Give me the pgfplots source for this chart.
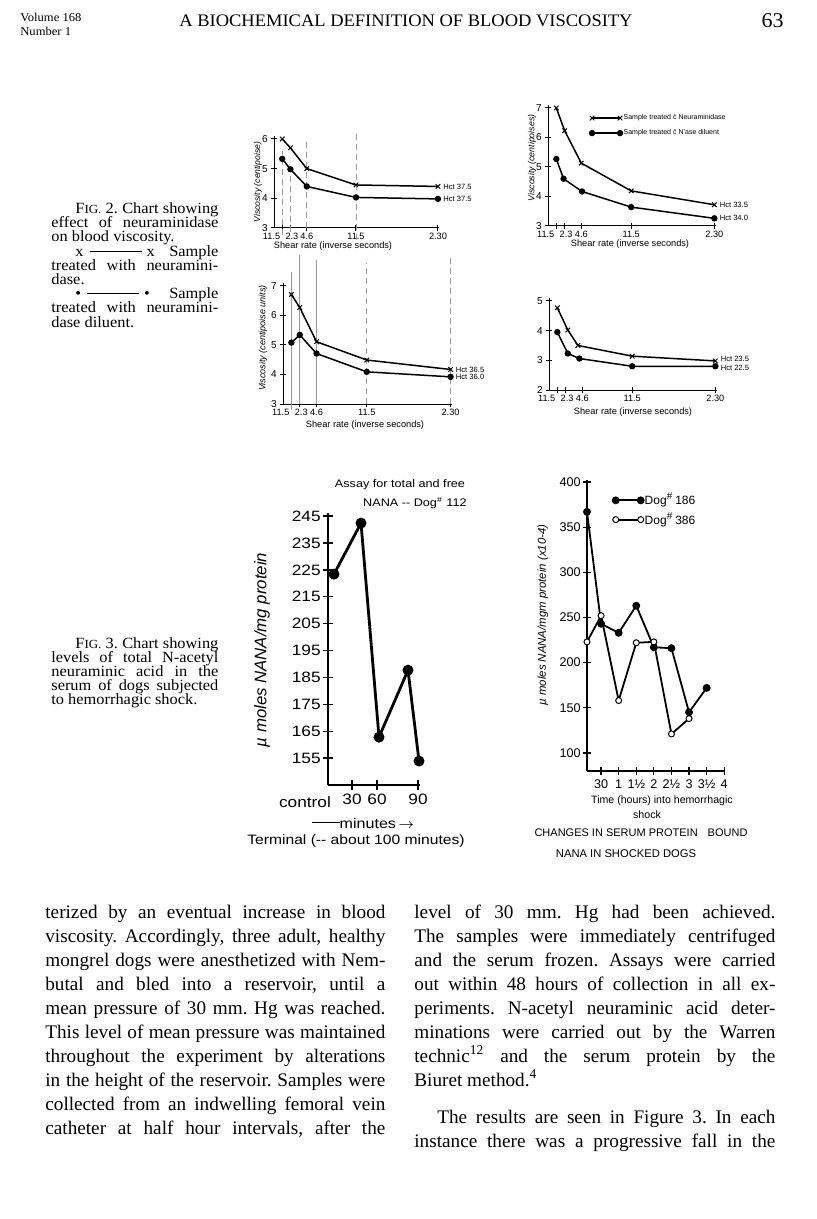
\documentclass[border=0pt]{standalone}
\usepackage{pgfplots}
\pgfplotsset{compat=1.18}
\usepackage{fontspec}
\setmainfont{Liberation Serif}
\setsansfont{Liberation Sans}
\newfontfamily\cent[FakeStretch=1.05]{Liberation Serif}
\newfontfamily\wide[FakeStretch=1.15]{Liberation Sans}
\newcommand\fs[1]{\fontsize{#1}{#1}\selectfont}
\frenchspacing
\newcommand\capl[4]{\node[anchor=base west,inner sep=0pt,font=\cent\fs{7.8}] at (#1,#2) {\makebox[#3][s]{#4}};}
\newcommand\capL[3]{\node[anchor=base west,inner sep=0pt,font=\cent\fs{7.8}] at (#1,#2) {#3};}
\newcommand\bodyl[4]{\node[anchor=base west,inner sep=0pt,font=\rmfamily\fs{9.6}] at (#1,#2) {\makebox[#3][s]{#4}};}
\newcommand\bodyL[3]{\node[anchor=base west,inner sep=0pt,font=\rmfamily\fs{9.6}] at (#1,#2) {#3};}
\tikzset{hct/.style={anchor=west,inner sep=0pt,xshift=2.5pt,font=\sffamily\fs{3.8}}}
\pgfplotsset{
 fig2/.style={scale only axis, anchor=south west, axis lines=left,
   axis line style={-,line width=0.5pt}, enlargelimits=false, clip=false,
   xmin=0, xmax=232, xtick={11.5,23,46,115,230},
   xticklabels={\makebox[0pt][r]{11.5\hspace{1pt}},\hspace{1.5pt}2.3,4.6,11.5,2.30},
   tick align=center, major tick length=3pt, tick style={black,line width=0.5pt},
   /pgf/number format/assume math mode=true,
   tick label style={font=\sffamily\fs{5}},
   xticklabel style={font=\sffamily\fs{4.6}, inner sep=0pt, yshift=-0.8pt},
   yticklabel style={inner sep=1.5pt},
   legend image code/.code={\draw[mark repeat=2,mark phase=1,##1] plot coordinates {(0pt,0pt) (7pt,0pt) (14pt,0pt)};},
 },
 xser/.style={black,line width=0.75pt,mark=x,mark size=1.6pt,mark options={solid,line width=0.5pt}},
 dser/.style={black,line width=0.75pt,mark=*,mark size=1.2pt},
 guide/.style={gray!80,line width=0.35pt,densely dashed,forget plot},
}
\begin{document}
\begin{tikzpicture}
% ---------- Fig 2 panel A (top left)
\begin{axis}[fig2, at={(137pt,-114pt)}, width=82.7pt, height=46pt, ymin=3, ymax=6.1, ytick={3,4,5,6}]
\addplot[guide] coordinates {(115,2.6) (115,6.3)};
\addplot[guide] coordinates {(46,3) (46,6.0)};
\addplot[guide] coordinates {(23,2.85) (23,5.1)};
\addplot[guide] coordinates {(11.5,2.75) (11.5,5.6)};
\addplot[xser] coordinates {(11.5,6.0) (23,5.7) (46,5.0) (115,4.45) (230,4.4)};
\addplot[dser] coordinates {(11.5,5.33) (23,4.98) (46,4.4) (115,4.03) (230,3.98)};
\node[hct] at (axis cs:230,4.4) {Hct 37.5};
\node[hct] at (axis cs:230,3.98) {Hct 37.5};
\end{axis}
% ---------- Fig 2 panel B (top right)
\begin{axis}[fig2, at={(274pt,-113pt)}, width=83.9pt, height=60.5pt, ymin=3, ymax=7.1, ytick={3,4,5,6,7},
  legend style={at={(axis cs:57,6.85)}, anchor=north west, draw=none, fill=none,
    font=\sffamily\fs{3.5}, row sep=2.3pt, inner sep=0pt, nodes={inner sep=0.6pt}},
  legend cell align=left]
\addplot[xser] coordinates {(11.5,7.0) (23,6.23) (46,5.13) (115,4.19) (230,3.72)};
\addplot[dser] coordinates {(11.5,5.27) (21.5,4.6) (47,4.17) (115,3.64) (230,3.26)};
\legend{Sample treated \={c} Neuraminidase, Sample treated \={c} N'ase diluent}
\node[hct] at (axis cs:230,3.72) {Hct 33.5};
\node[hct] at (axis cs:230,3.26) {Hct 34.0};
\end{axis}
% ---------- Fig 2 panel C (middle left)
\begin{axis}[fig2, at={(141.5pt,-202pt)}, width=84.5pt, height=60.5pt, ymin=3, ymax=7.1, ytick={3,4,5,6,7}]
\addplot[guide,solid] coordinates {(11.5,2.8) (11.5,7.47)};
\addplot[guide,solid] coordinates {(23,3) (23,8.05)};
\addplot[guide,solid] coordinates {(46,3) (46,7.88)};
\addplot[guide] coordinates {(115,3) (115,7.78)};
\addplot[guide] coordinates {(230,3) (230,7.95)};
\addplot[xser] coordinates {(11.5,6.71) (23,6.27) (46,5.11) (115,4.49) (230,4.17)};
\addplot[dser] coordinates {(11.5,5.08) (23,5.34) (46,4.71) (115,4.09) (230,3.92)};
\node[hct] at (axis cs:230,4.17) {Hct 36.5};
\node[hct] at (axis cs:230,3.92) {Hct 36.0};
\end{axis}
% ---------- Fig 2 panel D (middle right)
\begin{axis}[fig2, at={(274.5pt,-195pt)}, width=83.9pt, height=46pt, ymin=2, ymax=5.1, ytick={2,3,4,5}]
\addplot[xser] coordinates {(11.5,4.77) (26,4.02) (40,3.5) (115,3.14) (230,2.98)};
\addplot[dser] coordinates {(11.5,3.95) (26,3.23) (42,3.06) (115,2.8) (230,2.8)};
\node[hct,yshift=1pt] at (axis cs:230,2.98) {Hct 23.5};
\node[hct,yshift=-1pt] at (axis cs:230,2.8) {Hct 22.5};
\end{axis}
% ---------- Fig 3 left
\begin{axis}[scale only axis, anchor=south west, at={(164pt,-392.5pt)}, width=46pt, height=135.8pt,
  xmin=0, xmax=92, ymin=145, ymax=246, enlargelimits=false, clip=false,
  axis lines=left, axis line style={-,line width=0.7pt},
  xtick={24,49,90}, xticklabels={30,60,90}, ytick={155,165,...,245},
  tick align=center, major tick length=5pt, tick style={black,line width=0.7pt},
  /pgf/number format/assume math mode=true,
  tick label style={font=\wide\fs{7.5}}, yticklabel style={inner sep=1pt}, xticklabel style={inner sep=2pt}]
\addplot[black,line width=1.4pt,mark=*,mark size=2pt] coordinates {(6,223.4) (33,242.4) (51,162.8) (80,187.7) (91,153.9)};
\end{axis}
% ---------- Fig 3 right
\begin{axis}[scale only axis, anchor=south west, at={(293.5pt,-385.5pt)}, width=68.6pt, height=145.4pt,
  xmin=0.1, xmax=4, ymin=80, ymax=402, enlargelimits=false, clip=false,
  axis lines=left, axis line style={-,line width=0.6pt},
  xtick={0.5,1,...,4}, xticklabels={30,1,1½,2,2½,3,3½,4}, ytick={100,150,...,400},
  tick align=center, major tick length=4pt, tick style={black,line width=0.6pt},
  /pgf/number format/assume math mode=true,
  tick label style={font=\sffamily\fs{6.3}}, yticklabel style={inner sep=1pt}, xticklabel style={inner sep=2pt},
  legend image code/.code={\draw[mark repeat=2,mark phase=1,#1] plot coordinates {(0pt,0pt) (6.25pt,0pt) (12.5pt,0pt)};},
  legend style={at={(axis cs:0.82,369)}, anchor=west, draw=none, fill=none,
    font=\sffamily\fs{6}, row sep=1.2pt, inner sep=0pt, nodes={inner sep=0.5pt}},
  legend cell align=left]
\addplot[black,line width=0.9pt,mark=*,mark size=1.5pt] coordinates {(0.1,367) (0.5,243) (1,233) (1.5,263) (2,217) (2.5,216) (3,145) (3.5,172)};
\addplot[black,line width=0.9pt,mark=*,mark size=1.5pt,mark options={fill=white,line width=0.5pt}] coordinates {(0.1,223) (0.5,252) (1,158) (1.5,222) (2,223) (2.5,121) (3,138)};
\legend{Dog\textsuperscript{\#}\,186, Dog\textsuperscript{\#}\,386}
\end{axis}
\begin{scope}[x=0.5pt,y=-0.5pt]
\path (0,0) rectangle (816,1219);
% header
\node[anchor=base west,inner sep=0pt,font=\cent\fs{6}] at (20,22) {Volume 168};
\node[anchor=base west,inner sep=0pt,font=\cent\fs{6}] at (20,36) {Number 1};
\node[anchor=base,inner sep=0pt,font=\cent\fs{8.8}] at (406,27) {A BIOCHEMICAL DEFINITION OF BLOOD VISCOSITY};
\node[anchor=base east,inner sep=0pt,font=\cent\fs{10.5}] at (784,28) {63};
% Fig 2 caption
\capl{75}{213.5}{71.5pt}{F{\fs{6.2}IG.} 2. Chart showing}
\capl{51}{227.7}{83.5pt}{effect of neuraminidase}
\capL{51}{241.9}{on blood viscosity.}
\capl{75}{256.1}{71.5pt}{x\hspace{3pt}\rule[2.3pt]{26pt}{0.45pt}\hspace{2.5pt}x\hfill Sample}
\capl{51}{270.3}{83.5pt}{treated with neuramini-}
\capL{51}{284.5}{dase.}
\capl{75}{298.7}{71.5pt}{\textbullet\hspace{3pt}\rule[2.3pt]{26pt}{0.45pt}\hspace{2.5pt}\textbullet\hfill Sample}
\capl{51}{312.9}{83.5pt}{treated with neuramini-}
\capL{51}{327.1}{dase diluent.}
% Fig 3 caption
\capl{75}{648.5}{71.5pt}{F{\fs{6.2}IG.} 3. Chart showing}
\capl{51}{662.5}{83.5pt}{levels of total N-acetyl}
\capl{51}{676.5}{83.5pt}{neuraminic acid in the}
\capl{51}{690.5}{83.5pt}{serum of dogs subjected}
\capL{51}{704.5}{to hemorrhagic shock.}
% Fig 2 labels
\node[rotate=90,inner sep=0pt,font=\sffamily\itshape\fs{4.3}] at (258,182) {Viscosity (centipoise)};
\node[inner sep=0pt,font=\sffamily\fs{4.6}] at (333,246) {Shear rate (inverse seconds)};
\node[rotate=90,inner sep=0pt,font=\sffamily\itshape\fs{4.4}] at (532,158) {Viscosity (centipoises)};
\node[inner sep=0pt,font=\sffamily\fs{4.6}] at (630,244) {Shear rate (inverse seconds)};
\node[rotate=90,inner sep=0pt,font=\sffamily\itshape\fs{4.5}] at (263,338) {Viscosity (centipoise units)};
\node[inner sep=0pt,font=\sffamily\fs{4.6}] at (365,425) {Shear rate (inverse seconds)};
\node[inner sep=0pt,font=\sffamily\fs{4.6}] at (633,412) {Shear rate (inverse seconds)};
% Fig 3 left labels
\node[inner sep=0pt,font=\wide\fs{5.5}] at (400,485) {Assay for total and free};
\node[anchor=east,inner sep=0pt,font=\wide\fs{5.5}] at (467,503) {NANA -- Dog\textsuperscript{\#} 112};
\node[rotate=90,inner sep=0pt,font=\sffamily\itshape\fs{8.4}] at (262,650) {\textmu\ moles NANA/mg protein};
\node[inner sep=0pt,font=\wide\fs{7.5}] at (305,802) {control};
\node[inner sep=0pt,font=\wide\fs{7}] at (363,823) {\raisebox{2.3pt}{\rule{14pt}{0.5pt}}minutes\,$\rightarrow$};
\node[inner sep=0pt,font=\wide\fs{6.8}] at (356,841) {Terminal (-- about 100 minutes)};
% Fig 3 right labels
\node[rotate=90,inner sep=0pt,font=\sffamily\itshape\fs{5.7}] at (543,615) {\textmu\ moles NANA/mgm protein (x10-4)};
\node[inner sep=0pt,font=\sffamily\fs{5.3}] at (662,801) {Time (hours) into hemorrhagic};
\node[inner sep=0pt,font=\sffamily\fs{5.3}] at (647,815) {shock};
\node[inner sep=0pt,font=\sffamily\fs{5.5}] at (641,833) {CHANGES IN SERUM PROTEIN\hspace{5pt}BOUND};
\node[inner sep=0pt,font=\sffamily\fs{5.6}] at (626,854) {NANA IN SHOCKED DOGS};
% body text left column
\bodyl{45}{918}{170pt}{terized by an eventual increase in blood}
\bodyl{45}{942}{170pt}{viscosity. Accordingly, three adult, healthy}
\bodyl{45}{966}{170pt}{mongrel dogs were anesthetized with Nem-}
\bodyl{45}{990}{170pt}{butal and bled into a reservoir, until a}
\bodyl{45}{1014}{170pt}{mean pressure of 30 mm. Hg was reached.}
\bodyl{45}{1038}{170pt}{This level of mean pressure was maintained}
\bodyl{45}{1062}{170pt}{throughout the experiment by alterations}
\bodyl{45}{1086}{170pt}{in the height of the reservoir. Samples were}
\bodyl{45}{1110}{170pt}{collected from an indwelling femoral vein}
\bodyl{45}{1134}{170pt}{catheter at half hour intervals, after the}
% body text right column
\bodyl{414}{918}{180.5pt}{level of 30 mm. Hg had been achieved.}
\bodyl{414}{942}{180.5pt}{The samples were immediately centrifuged}
\bodyl{414}{966}{180.5pt}{and the serum frozen. Assays were carried}
\bodyl{414}{990}{180.5pt}{out within 48 hours of collection in all ex-}
\bodyl{414}{1014}{180.5pt}{periments. N-acetyl neuraminic acid deter-}
\bodyl{414}{1038}{180.5pt}{minations were carried out by the Warren}
\bodyl{414}{1062}{180.5pt}{technic\textsuperscript{12} and the serum protein by the}
\bodyL{414}{1086}{Biuret method.\textsuperscript{4}}
\bodyl{437}{1123}{169pt}{The results are seen in Figure 3. In each}
\bodyl{414}{1147}{180.5pt}{instance there was a progressive fall in the}
\end{scope}
\end{tikzpicture}
\end{document}
